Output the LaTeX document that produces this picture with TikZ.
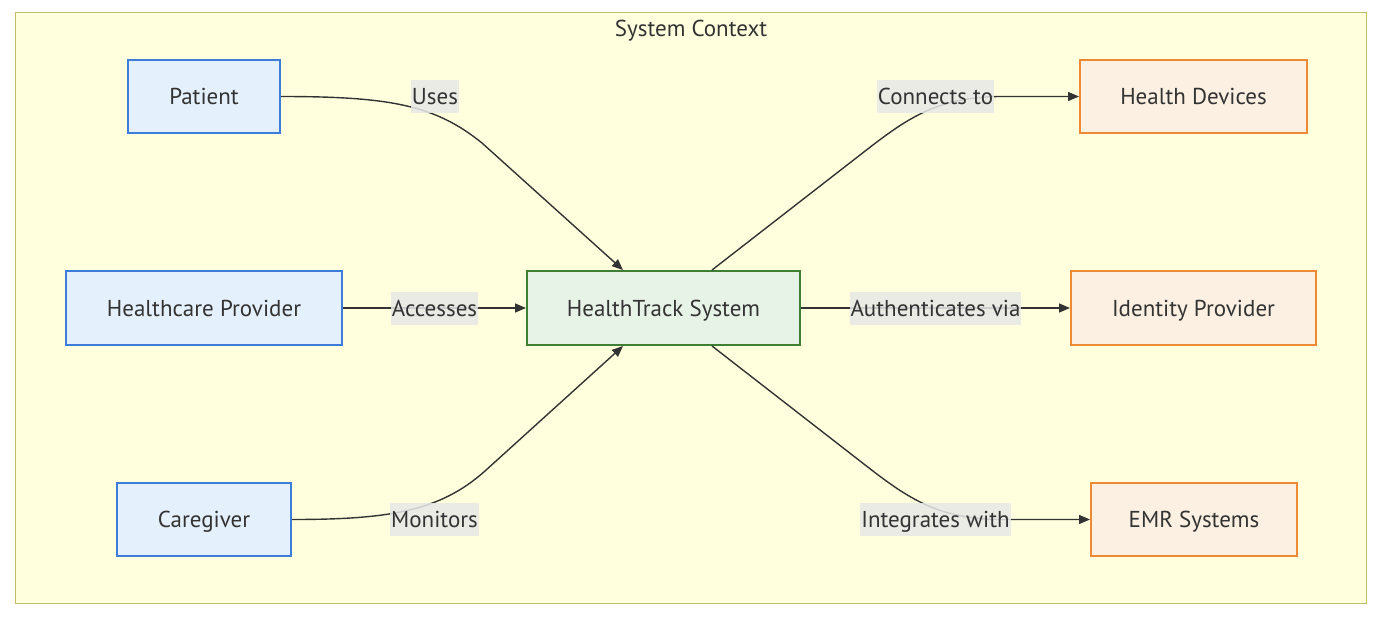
\documentclass[tikz,border=0pt]{standalone}
\usepackage{fontspec}
\setmainfont{PT Sans}
\usetikzlibrary{arrows.meta,calc}
\definecolor{clfill}{HTML}{FFFFDE}
\definecolor{cldraw}{HTML}{BDBD6A}
\definecolor{actfill}{HTML}{E4F1FC}
\definecolor{actdraw}{HTML}{3B7DD8}
\definecolor{sysfill}{HTML}{E7F3E6}
\definecolor{sysdraw}{HTML}{3F7F35}
\definecolor{extfill}{HTML}{FBF0E1}
\definecolor{extdraw}{HTML}{EE8A36}
\definecolor{lblfill}{HTML}{E8E8E8}
\definecolor{txt}{HTML}{333333}
\tikzset{
  base/.style={rectangle, line width=2pt, text=txt, font=\fontsize{23}{27}\selectfont, inner sep=0pt, text height=16pt, text depth=0pt},
  actor/.style={base, fill=actfill, draw=actdraw},
  sysbox/.style={base, fill=sysfill, draw=sysdraw},
  extbox/.style={base, fill=extfill, draw=extdraw},
  lbl/.style={fill=lblfill, fill opacity=0.85, text opacity=1, text=txt, font=\fontsize{23}{27}\selectfont, inner xsep=1pt, inner ysep=0pt, minimum height=33pt, text height=16pt, text depth=0pt},
  conn/.style={draw=txt, line width=1.4pt, -{Triangle[length=11pt,width=9pt]}}
}
\begin{document}
\begin{tikzpicture}[x=1pt,y=-1pt]
\useasboundingbox (0,0) rectangle (1379,624);
\fill[white] (0,0) rectangle (1379,624);
\draw[fill=clfill, draw=cldraw, line width=1.4pt] (15.5,12.5) rectangle (1366.5,603.5);
\node[text=txt, font=\fontsize{23}{27}\selectfont, text height=16pt, text depth=0pt, inner sep=0pt] (title) at (691,28.5) {System Context};

\node[actor, minimum width=152pt, minimum height=73pt] (patient) at (204,96.5) {Patient};
\node[actor, minimum width=276pt, minimum height=74pt] (provider) at (204,308) {Healthcare Provider};
\node[actor, minimum width=174pt, minimum height=73pt] (caregiver) at (204,519.5) {Caregiver};
\node[sysbox, minimum width=273pt, minimum height=74pt] (sys) at (663.5,308) {HealthTrack System};
\node[extbox, minimum width=227pt, minimum height=73pt] (devices) at (1193.5,96.5) {Health Devices};
\node[extbox, minimum width=245pt, minimum height=74pt] (idp) at (1193.5,308) {Identity Provider};
\node[extbox, minimum width=206pt, minimum height=73pt] (emr) at (1194,519.5) {EMR Systems};

\coordinate (sysinT) at ($(sys.north)+(-40.5,0)$);
\coordinate (sysinB) at ($(sys.south)+(-40.5,0)$);
\coordinate (sysoutT) at ($(sys.north)+(48.5,0)$);
\coordinate (sysoutB) at ($(sys.south)+(48.5,0)$);

\draw[conn] (patient.east) .. controls (390,96.5) and (435,105) .. (482,143) -- (sysinT);
\draw[conn] (provider.east) -- (sys.west);
\draw[conn] (caregiver.east) .. controls (390,519.5) and (440,511) .. (485,471) -- (sysinB);
\draw[conn] (sysoutT) -- (860,155) .. controls (905,120) and (935,97) .. (1000,96.5) -- (devices.west);
\draw[conn] (sys.east) -- (idp.west);
\draw[conn] (sysoutB) -- (860,461) .. controls (905,496) and (935,519) .. (1000,519.5) -- (emr.west);

\node[lbl] (l1) at (435,96.5) {Uses};
\node[lbl] (l2) at (434.5,308) {Accesses};
\node[lbl] (l3) at (434.5,519.5) {Monitors};
\node[lbl] (l4) at (935.5,96.5) {Connects to};
\node[lbl] (l5) at (935.5,308) {Authenticates via};
\node[lbl] (l6) at (935.5,519.5) {Integrates with};
\end{tikzpicture}
\end{document}
